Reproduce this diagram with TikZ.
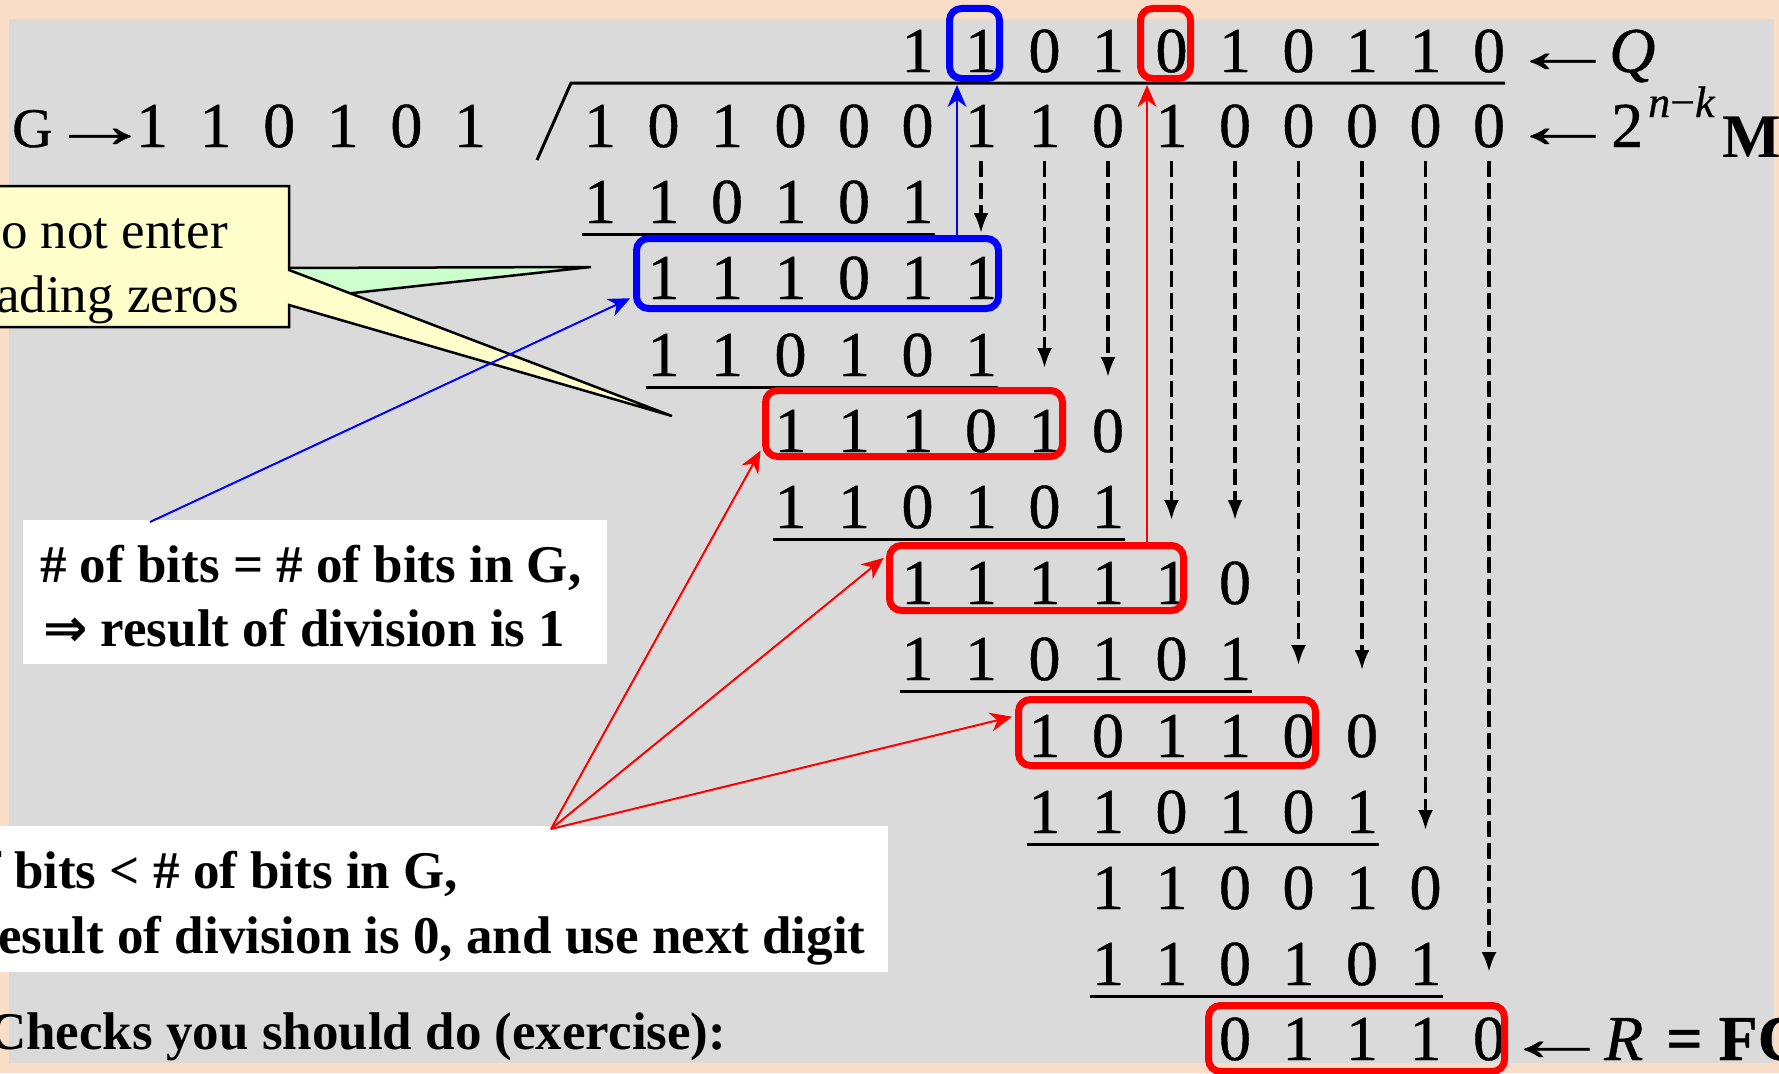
\documentclass[tikz,border=0pt]{standalone}
\usepackage{graphicx}
\usepackage{fontspec}
\setmainfont{Liberation Serif}
\newfontfamily\dvsans{DejaVu Sans}
\newfontfamily\scanfont{Liberation Serif}[FakeBold=0.7]
\usetikzlibrary{arrows.meta,calc}
\definecolor{peach}{RGB}{250,221,198}
\definecolor{scan}{RGB}{218,218,218}
\definecolor{callyellow}{RGB}{255,255,204}
\definecolor{callgreen}{RGB}{204,255,204}
\definecolor{pblue}{RGB}{0,0,255}
\definecolor{pred}{RGB}{255,0,0}
\newcommand\digitfont{\scanfont\fontsize{64}{70}\selectfont}
\newcommand\notefont{\fontsize{53}{64}\selectfont}
\newcommand\larr{\scalebox{1.7}[1]{←}}
\newcommand\rarr{\scalebox{1.6}[1]{→}}
\newcommand\bitrow[4]{\foreach \b [count=\i] in {#4} {\node[digit] (#1-\i) at ({600+(#2+\i-2)*63.5},#3) {\b};}}
\begin{document}
\begin{tikzpicture}[x=1pt,y=-1pt,
  digit/.style={inner sep=0pt, anchor=base, font=\digitfont},
  lab/.style={inner sep=0pt, anchor=base west},
  arr/.style={inner sep=0pt, anchor=base, font=\digitfont},
  bluebox/.style={draw=pblue, line width=7pt, rounded corners=12pt, inner sep=0pt},
  redbox/.style={draw=pred, line width=7pt, rounded corners=12pt, inner sep=0pt},
  uline/.style={line width=3pt},
  dasharr/.style={line width=3.2pt, dash pattern=on 16pt off 6pt, -{Latex[length=20pt,width=15pt]}},
  bluearr/.style={draw=pblue, line width=2pt, -{Stealth[length=22pt,width=19pt,inset=7pt]}},
  redarr/.style={draw=pred, line width=2pt, -{Stealth[length=22pt,width=19pt,inset=7pt]}},
  notebox/.style={fill=white, inner sep=0pt, anchor=north west},
  note/.style={inner sep=0pt, anchor=base west, font=\notefont\bfseries}]
\useasboundingbox (0,0) rectangle (1779,1073);
\clip (0,0) rectangle (1779,1073);
\fill[peach] (0,0) rectangle (1779,1073);
\fill[scan] (9,19) rectangle (1774,1063);

% digit rows
\bitrow{q}{6}{72}{1,1,0,1,0,1,0,1,1,0}
\bitrow{m}{1}{147}{1,0,1,0,0,0,1,1,0,1,0,0,0,0,0}
\bitrow{a}{1}{223}{1,1,0,1,0,1}
\bitrow{b}{2}{299}{1,1,1,0,1,1}
\bitrow{c}{2}{376}{1,1,0,1,0,1}
\bitrow{d}{4}{452}{1,1,1,0,1,0}
\bitrow{e}{4}{528}{1,1,0,1,0,1}
\bitrow{f}{6}{604}{1,1,1,1,1,0}
\bitrow{g}{6}{680}{1,1,0,1,0,1}
\bitrow{h}{8}{757}{1,0,1,1,0,0}
\bitrow{i}{8}{833}{1,1,0,1,0,1}
\bitrow{j}{9}{909}{1,1,0,0,1,0}
\bitrow{k}{9}{985}{1,1,0,1,0,1}
\bitrow{r}{11}{1060}{0,1,1,1,0}

% generator
\node[lab] (gname) at (12,147) {{\scanfont\fontsize{56}{60}\selectfont G}\kern-4pt{\digitfont\rarr}};
\foreach \b [count=\i] in {1,1,0,1,0,1} {\node[digit] (gen-\i) at ({152+(\i-1)*63.6},147) {\b};}

% division bar
\coordinate (slb) at (537,160);
\coordinate (slt) at (571,83);
\coordinate (bar) at (1505,83);
\draw[uline] (slb) -- (slt) -- (bar);

% labels on the right
\node[arr] (qarr) at (1563,72) {\larr};
\node[lab, font=\digitfont] (qlab) at (1609,72) {\textit{Q}};
\node[arr] (marr) at (1563,147) {\larr};
\node[lab, font=\digitfont] (mlab) at (1611,147) {2};
\node[lab, font=\scanfont\fontsize{44}{48}\selectfont] (nk) at (1648,117) {\textit{n}−\textit{k}};
\node[lab, font=\fontsize{62}{66}\selectfont\bfseries] (mm) at (1722,157) {M};
\node[arr] (rarr) at (1557,1060) {\larr};
\node[lab, font=\digitfont] (rlab) at (1604,1060) {\textit{R}};
\node[lab, font=\digitfont\bfseries] (fclab) at (1666,1060) {= FC};

% underlines
\foreach \rw in {a,c,e,g,i,k}
  \draw[uline] ([xshift=-18pt,yshift=-11pt]\rw-1.base) -- ([xshift=17pt,yshift=-11pt]\rw-6.base);

% dashed bring-down arrows
\foreach \c/\tp in {7/233, 8/368, 9/377, 10/520, 11/520, 12/665, 13/670, 14/830, 15/972}
  \draw[dasharr] ([yshift=-14pt]m-\c.base) -- (m-\c.base |- 0,\tp);

% boxes
\node[bluebox, minimum width=50pt, minimum height=70pt] (qB) at (974.5,43.5) {};
\node[redbox, minimum width=50pt, minimum height=70pt] (qR) at (1165.5,43.5) {};
\node[bluebox, minimum width=362pt, minimum height=70pt] (bB) at (817.5,273.5) {};
\node[redbox, minimum width=297pt, minimum height=66pt] (bD) at (914,423.5) {};
\node[redbox, minimum width=294pt, minimum height=65pt] (bF) at (1036.5,578) {};
\node[redbox, minimum width=297pt, minimum height=66pt] (bH) at (1167,732.5) {};
\node[redbox, minimum width=296pt, minimum height=66pt] (bR) at (1356.5,1038.5) {};

% vertical connectors to the quotient
\draw[bluearr, shorten >=3pt] (bB.north -| 957,0) -- (qB.south -| 957,0);
\draw[redarr, shorten >=3pt] (bF.north -| 1147,0) -- (qR.south -| 1147,0);

% callout "do not enter leading zeros"
\fill[callgreen, draw=black, line width=2.5pt] (280,268) -- (591,267) -- (280,301) -- cycle;
\draw[fill=callyellow, line width=2.5pt] (-5,186) -- (289,186) -- (289,270) -- (672,416) -- (289,305) -- (289,327) -- (-5,327) -- cycle;
\node[lab, font=\notefont] (dne1) at (1,248) {o not enter};
\node[lab, font=\notefont] (dne2) at (-4,312) {ading zeros};

% white note boxes
\node[notebox, minimum width=584pt, minimum height=144pt] (box1) at (23,520) {};
\node[note] (t11) at (40,582) {\# of bits = \# of bits in G,};
\node[note] (t12) at (43,646) {{\dvsans\bfseries ⇒} result of division is 1};
\node[notebox, minimum width=898pt, minimum height=146pt] (box2) at (-10,826) {};
\node[note] (t21) at (-17,888) {f bits < \# of bits in G,};
\node[note] (t22) at (-2,953) {esult of division is 0, and use next digit};
\node[note] (t3) at (-12,1049) {Checks you should do (exercise):};

% blue pointer
\coordinate (bstart) at (150,522);
\draw[bluearr, shorten >=3pt] (bstart) -- (bB.west |- 0,297);

% red fan
\coordinate (fan) at (551,829);
\draw[redarr, shorten >=3pt] (fan) -- (bD.west |- 0,448);
\draw[redarr, shorten >=3pt] (fan) -- (bF.west |- 0,556);
\draw[redarr, shorten >=3pt] (fan) -- (bH.west |- 0,716);
\end{tikzpicture}
\end{document}
